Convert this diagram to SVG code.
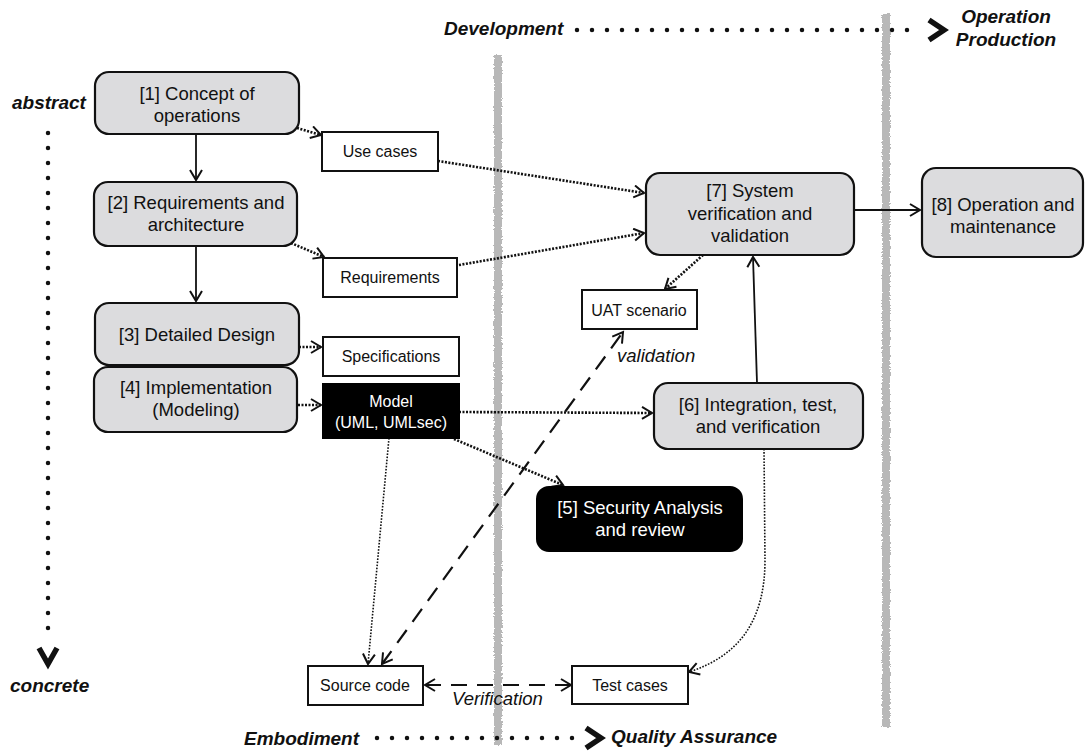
<svg xmlns="http://www.w3.org/2000/svg" width="1085" height="751" viewBox="0 0 1085 751">
<style>
text{font-family:"Liberation Sans",Arial,sans-serif;fill:#111}
.node rect.g{fill:#dcdcde;stroke:#111;stroke-width:2.2}
.node rect.w{fill:#fff;stroke:#111;stroke-width:2}
.node rect.b{fill:#000;stroke:#000;stroke-width:2}
.big{font-size:18.5px;text-anchor:middle}
.sm{font-size:16px;text-anchor:middle}
.wt{fill:#fff}
.ax{font-size:19px;font-weight:bold;font-style:italic}
.lbl{font-size:18.5px;font-style:italic}
.solid{fill:none;stroke:#111;stroke-width:1.8}
.dot{fill:none;stroke:#111;stroke-width:2.6;stroke-dasharray:2 1.5}
.thin{fill:none;stroke:#111;stroke-width:1.6;stroke-dasharray:1.6 1.5}
.dash{fill:none;stroke:#111;stroke-width:2.2;stroke-dasharray:16 10}
.axis{fill:none;stroke:#111;stroke-width:4.5;stroke-linecap:round;stroke-dasharray:0 15}
.chev{fill:none;stroke:#111;stroke-width:5.5;stroke-linejoin:miter}
.bar{fill:#b8b8b8}
</style>
<defs>
<marker id="ah" markerUnits="userSpaceOnUse" markerWidth="14" markerHeight="16" refX="11" refY="7" orient="auto-start-reverse" viewBox="0 0 14 16">
<path d="M1,1 L11,7 L1,13" fill="none" stroke="#111" stroke-width="2" stroke-dasharray="none"/>
</marker>
<filter id="rough" x="-50%" y="-2%" width="200%" height="104%">
<feTurbulence type="fractalNoise" baseFrequency="0.6" numOctaves="2" seed="3"/>
<feDisplacementMap in="SourceGraphic" scale="4" xChannelSelector="R" yChannelSelector="G"/>
</filter>
</defs>

<g id="bars" filter="url(#rough)">
<rect class="bar" x="494" y="55" width="8" height="690"/>
<rect class="bar" x="882" y="14" width="8" height="713"/>
</g>

<g id="axes">
<line class="axis" x1="48" y1="133" x2="48" y2="640"/>
<polyline class="chev" points="39,648 48,664 57,648"/>
<text class="ax" x="12" y="109">abstract</text>
<text class="ax" x="10" y="692">concrete</text>
<text class="ax" x="444" y="35">Development</text>
<line class="axis" x1="577" y1="30" x2="922" y2="30"/>
<polyline class="chev" points="929,20 944,30 929,40"/>
<text class="ax" x="1006" y="23" text-anchor="middle">Operation</text>
<text class="ax" x="1006" y="46" text-anchor="middle">Production</text>
<text class="ax" x="244" y="745">Embodiment</text>
<line class="axis" x1="377" y1="738" x2="580" y2="738"/>
<polyline class="chev" points="586,728 601,738 586,748"/>
<text class="ax" x="611" y="743">Quality Assurance</text>
</g>

<g id="connectors">
<line class="solid" x1="196" y1="134" x2="196" y2="180" marker-end="url(#ah)"/>
<line class="solid" x1="196" y1="246" x2="196" y2="301" marker-end="url(#ah)"/>
<line class="dot" x1="297" y1="128" x2="321" y2="135" marker-end="url(#ah)"/>
<line class="dot" x1="291" y1="243" x2="324" y2="257" marker-end="url(#ah)"/>
<line class="dot" x1="299" y1="347" x2="321" y2="347" marker-end="url(#ah)"/>
<line class="dot" x1="298" y1="405" x2="321" y2="405" marker-end="url(#ah)"/>
<line class="dot" x1="438" y1="161" x2="644" y2="193" marker-end="url(#ah)"/>
<line class="dot" x1="459" y1="265" x2="644" y2="233" marker-end="url(#ah)"/>
<line class="dot" x1="703" y1="255" x2="665" y2="289" marker-end="url(#ah)"/>
<line class="solid" x1="757" y1="383" x2="753" y2="257" marker-end="url(#ah)"/>
<line class="solid" x1="854" y1="210" x2="920" y2="210" marker-end="url(#ah)"/>
<line class="dot" x1="459" y1="412" x2="652" y2="413" marker-end="url(#ah)"/>
<line class="dot" x1="454" y1="439" x2="563" y2="485" marker-end="url(#ah)"/>
<line class="thin" x1="389" y1="438" x2="368" y2="664" marker-end="url(#ah)"/>
<line class="dash" x1="382" y1="664" x2="623" y2="332" marker-start="url(#ah)" marker-end="url(#ah)"/>
<line class="dash" x1="425" y1="685" x2="571" y2="685" marker-start="url(#ah)" marker-end="url(#ah)"/>
<path class="thin" d="M764,449 L765,560 C765,622 738,656 689,672" marker-end="url(#ah)"/>
<text class="lbl" x="617" y="362">validation</text>
<text class="lbl" x="452" y="705">Verification</text>
</g>

<g id="n1" class="node"><rect class="g" x="95" y="72" width="204" height="62" rx="14"/>
<text class="big" x="197" y="100">[1] Concept of</text><text class="big" x="197" y="122">operations</text></g>
<g id="n2" class="node"><rect class="g" x="94" y="182" width="203" height="64" rx="14"/>
<text class="big" x="196" y="209">[2] Requirements and</text><text class="big" x="196" y="231">architecture</text></g>
<g id="n3" class="node"><rect class="g" x="95" y="303" width="204" height="62" rx="14"/>
<text class="big" x="197" y="341">[3] Detailed Design</text></g>
<g id="n4" class="node"><rect class="g" x="94" y="367" width="203" height="65" rx="14"/>
<text class="big" x="196" y="394">[4] Implementation</text><text class="big" x="196" y="416">(Modeling)</text></g>
<g id="usecases" class="node"><rect class="w" x="322" y="132" width="116" height="39"/>
<text class="sm" x="380" y="157">Use cases</text></g>
<g id="requirements" class="node"><rect class="w" x="323" y="258" width="134" height="39"/>
<text class="sm" x="390" y="283">Requirements</text></g>
<g id="specifications" class="node"><rect class="w" x="323" y="337" width="136" height="39"/>
<text class="sm" x="391" y="362">Specifications</text></g>
<g id="model" class="node"><rect class="b" x="323" y="384" width="136" height="54"/>
<text class="sm wt" x="391" y="407">Model</text><text class="sm wt" x="391" y="428">(UML, UMLsec)</text></g>
<g id="n7" class="node"><rect class="g" x="646" y="173" width="208" height="82" rx="14"/>
<text class="big" x="750" y="197">[7] System</text><text class="big" x="750" y="220">verification and</text><text class="big" x="750" y="242">validation</text></g>
<g id="n8" class="node"><rect class="g" x="922" y="168" width="161" height="89" rx="14"/>
<text class="big" x="1003" y="211">[8] Operation and</text><text class="big" x="1003" y="233">maintenance</text></g>
<g id="uat" class="node"><rect class="w" x="582" y="290" width="115" height="39"/>
<text class="sm" x="639" y="316">UAT scenario</text></g>
<g id="n6" class="node"><rect class="g" x="654" y="383" width="209" height="66" rx="14"/>
<text class="big" x="758" y="411">[6] Integration, test,</text><text class="big" x="758" y="433">and verification</text></g>
<g id="n5" class="node"><rect class="b" x="537" y="487" width="205" height="64" rx="12"/>
<text class="big wt" x="640" y="514">[5] Security Analysis</text><text class="big wt" x="640" y="536">and review</text></g>
<g id="sourcecode" class="node"><rect class="w" x="308" y="666" width="115" height="39"/>
<text class="sm" x="365" y="691">Source code</text></g>
<g id="testcases" class="node"><rect class="w" x="572" y="666" width="116" height="38"/>
<text class="sm" x="630" y="691">Test cases</text></g>
</svg>
